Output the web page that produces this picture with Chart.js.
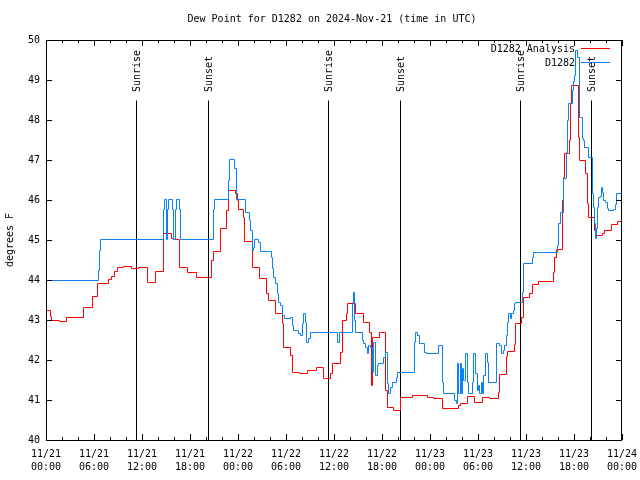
<!DOCTYPE html>
<html>
<head>
<meta charset="utf-8">
<script src="https://cdn.jsdelivr.net/npm/chart.js@4.4.1/dist/chart.umd.min.js"></script>
<style>
  html, body { margin: 0; padding: 0; background: #fff; }
  canvas { display: block; }
</style>
</head>
<body>
<canvas id="dewPoint" width="640" height="480"></canvas>
<script>
// hours since 11/21 00:00 UTC, dew point in deg F (step data)
const analysisHours = [0, 0.5, 0.625, 1.625, 2.5, 4.625, 5.75, 6.375, 7.75, 8.125, 8.5, 8.875, 9.625, 10.625, 11.5,
    12.625, 13.625, 14.625, 15.625, 15.875, 16.625, 17.625, 18.75, 20.625, 20.875, 21.75, 22.5, 22.75, 23.625, 23.875,
    24, 24.625, 24.75, 25.75, 26.625, 27.5, 27.75, 28.625, 29.5, 29.625, 30.5, 30.75, 31.625, 32.625, 33.75, 34.625,
    35.5, 35.75, 36.75, 37, 37.5, 37.625, 38.625, 39.625, 40.375, 40.625, 40.75, 41.625, 42.375, 42.625, 43.375,
    44.25, 45.75, 47.625, 48.375, 49.5, 51.5, 51.75, 52.625, 53.5, 54.5, 55.375, 56.5, 56.625, 57.5, 57.625, 58.5,
    58.625, 59.375, 59.625, 60.375, 60.75, 61.5, 63.375, 63.5, 63.75, 64.5, 64.625, 64.75, 65.375, 65.5, 65.625,
    66.5, 66.625, 67.375, 67.625, 67.75, 68.5, 68.625, 69.5, 69.75, 70.625, 71.375, 72];
const analysisValues = [43.25, 43.1, 43.0, 42.975, 43.075, 43.325, 43.6, 43.925, 44.025, 44.1, 44.225, 44.325, 44.35, 44.3, 44.325,
    43.95, 44.225, 45.175, 45.05, 45.025, 44.325, 44.2, 44.075, 44.5, 44.725, 45.3, 45.75, 46.25, 46.175, 46.0,
    45.775, 45.575, 44.975, 44.325, 44.05, 43.675, 43.5, 43.175, 42.925, 42.325, 42.125, 41.7, 41.675, 41.75, 41.825, 41.55,
    41.675, 41.925, 42.2, 43.0, 43.175, 43.425, 43.175, 42.95, 42.7, 41.375, 42.575, 42.7, 41.25, 40.825, 40.75,
    41.075, 41.125, 41.075, 41.05, 40.8, 40.875, 40.925, 41.1, 40.95, 41.075, 41.05, 41.2, 41.65, 42.1, 42.225, 42.4,
    42.925, 43.075, 43.575, 43.675, 43.9, 43.975, 44.2, 44.575, 44.775, 46.0, 46.575, 47.175, 47.5, 48.425, 48.875,
    47.575, 47.0, 46.675, 45.925, 45.575, 45.25, 45.125, 45.175, 45.25, 45.4, 45.475, 45.475];

const stationHours = [0, 6.5, 6.625, 6.75, 14.625, 14.75, 15, 15.125, 15.25, 15.75, 15.875, 16.125, 16.25, 16.625, 16.75,
    20.875, 21, 22.75, 22.875, 23.5, 23.75, 24.875, 25.375, 25.5, 25.75, 25.875, 26, 26.5, 26.75, 28.125, 28.25,
    28.375, 28.625, 28.875, 29, 29.25, 29.5, 29.75, 30.5, 30.75, 30.875, 31.5, 31.75, 32, 32.125, 32.375, 32.5,
    32.75, 33, 36.375, 36.625, 38.25, 38.375, 38.5, 38.625, 39.5, 39.625, 39.875, 40.125, 40.25, 40.5, 40.75,
    40.875, 41.125, 41.375, 41.5, 42.125, 42.375, 42.625, 42.75, 43, 43.25, 43.75, 43.875, 46, 46.125, 46.375,
    46.625, 47.25, 47.5, 49, 49.5, 49.625, 51, 51.25, 51.375, 51.5, 51.75, 51.875, 52, 52.125, 52.375, 52.625,
    52.75, 53.25, 53.375, 53.625, 53.875, 54, 54.125, 54.375, 54.5, 54.625, 54.875, 55.125, 55.25, 56.25, 56.625,
    56.875, 57.125, 57.25, 57.5, 57.625, 57.75, 58, 58.125, 58.375, 58.5, 58.625, 59.5, 59.625, 60.75, 60.875,
    63.875, 64, 64.25, 64.625, 65, 65.125, 65.25, 65.75, 65.875, 66, 66.125, 66.375, 66.625, 67, 67.125, 67.25,
    67.75, 68.25, 68.375, 68.5, 68.625, 68.75, 68.875, 69, 69.25, 69.375, 69.5, 69.625, 69.875, 70.125, 70.25,
    70.875, 71.125, 71.25, 72];
const stationValues = [44.0, 44.25, 44.75, 45.025, 45.775, 46.025, 45.025, 45.775, 46.025, 45.775, 45.025, 45.775, 46.025, 45.775, 45.025,
    45.775, 46.025, 46.5, 47.025, 46.8, 46.025, 45.7, 45.5, 45.25, 44.75, 44.825, 45.025, 44.95, 44.725, 44.575, 44.3,
    44.075, 43.925, 43.675, 43.45, 43.375, 43.125, 43.05, 43.075, 42.875, 42.75, 42.675, 42.625, 42.925, 43.175, 42.95, 42.45,
    42.55, 42.7, 42.45, 42.7, 43.45, 43.7, 43.0, 42.7, 42.5, 42.425, 42.325, 42.175, 42.375, 42.325, 41.7,
    42.45, 41.625, 41.875, 41.925, 42.075, 42.2, 41.425, 41.175, 41.325, 41.45, 41.575, 41.7, 42.45, 42.7, 42.625,
    42.425, 42.2, 42.175, 42.375, 41.45, 41.175, 41.0, 40.925, 41.925, 41.175, 41.925, 41.175, 41.8, 41.5, 42.175, 41.45,
    41.175, 41.45, 42.175, 41.675, 41.25, 41.375, 41.175, 41.45, 41.175, 41.625, 42.175, 41.95, 41.45, 42.425, 42.375,
    42.175, 42.25, 42.375, 42.625, 42.95, 43.175, 43.05, 43.175, 43.25, 43.425, 43.45, 43.7, 44.425, 44.575, 44.7,
    44.875, 45.425, 45.7, 46.55, 47.2, 48.0, 48.425, 48.75, 48.975, 49.125, 49.75, 49.575, 48.075, 47.55, 47.5, 47.325,
    47.075, 46.175, 45.825, 45.425, 45.05, 45.3, 45.825, 46.075, 46.1, 46.325, 46.2, 46.0, 45.95, 45.8, 45.75,
    45.775, 45.9, 46.175, 46.175];

const sunHours = [11.25, 20.25, 35.25, 44.25, 59.25, 68.125];
const sunLabels = ['Sunrise', 'Sunset', 'Sunrise', 'Sunset', 'Sunrise', 'Sunset'];
const sunLineTop = 48.5;

const tickDays = ['11/21', '11/21', '11/21', '11/21', '11/22', '11/22', '11/22', '11/22', '11/23', '11/23', '11/23', '11/23', '11/24'];
const tickTimes = ['00:00', '06:00', '12:00', '18:00', '00:00', '06:00', '12:00', '18:00', '00:00', '06:00', '12:00', '18:00', '00:00'];

const FONT = '"DejaVu Sans Mono", "Liberation Mono", monospace';
const RED = '#ff0000';
const BLUE = '#0a80f5';

const toPoints = (hours, values) => hours.map((h, i) => ({ x: h, y: values[i] }));

let datasets = [{
    label: 'D1282',
    data: toPoints(stationHours, stationValues),
    borderColor: BLUE,
    borderWidth: 1,
    pointRadius: 0,
    stepped: true,
    order: 0
}, {
    label: 'D1282 Analysis',
    data: toPoints(analysisHours, analysisValues),
    borderColor: RED,
    borderWidth: 1,
    pointRadius: 0,
    stepped: true,
    order: 1
}].concat(sunHours.map((h, i) => {
    return {
        label: sunLabels[i],
        data: [{ x: h, y: 40 }, { x: h, y: sunLineTop }],
        borderColor: '#000',
        borderWidth: 1,
        pointRadius: 0,
        order: 2
    };
}));

// crisp 1px lines like gnuplot
const halfPixel = {
    id: 'halfPixel',
    beforeDatasetsDraw(chart) { chart.ctx.save(); chart.ctx.translate(0.5, 0.5); },
    afterDatasetsDraw(chart) { chart.ctx.restore(); }
};

const decorations = {
    id: 'decorations',
    afterDraw(chart) {
        const ctx = chart.ctx;
        const area = chart.chartArea;
        const x = chart.scales.x, y = chart.scales.y;

        ctx.save();
        ctx.strokeStyle = '#000';
        ctx.lineWidth = 1;

        // frame
        ctx.strokeRect(Math.round(area.left) + 0.5, Math.round(area.top) + 0.5,
            Math.round(area.right - area.left) - 1, Math.round(area.bottom - area.top));

        // inward tick marks
        ctx.beginPath();
        for (let h = 0; h <= 72; h += 2) {
            let px = Math.round(x.getPixelForValue(h)) + 0.5;
            let len = h % 6 === 0 ? 6 : 3;
            ctx.moveTo(px, area.bottom);
            ctx.lineTo(px, area.bottom - len);
            ctx.moveTo(px, area.top);
            ctx.lineTo(px, area.top + len);
        }
        for (let v = 40; v <= 50; v++) {
            let py = Math.round(y.getPixelForValue(v)) + 0.5;
            ctx.moveTo(area.left, py);
            ctx.lineTo(area.left + 6, py);
            ctx.moveTo(area.right, py);
            ctx.lineTo(area.right - 6, py);
        }
        ctx.stroke();

        ctx.fillStyle = '#000';
        ctx.font = '10px ' + FONT;

        // title
        ctx.textAlign = 'center';
        ctx.textBaseline = 'middle';
        ctx.fillText('Dew Point for D1282 on 2024-Nov-21 (time in UTC)', (area.left + area.right) / 2 - 2, 19);

        // sunrise / sunset labels
        sunHours.forEach((h, i) => {
            let px = x.getPixelForValue(h) + 1.5;
            let py = y.getPixelForValue(sunLineTop) - 8;
            ctx.save();
            ctx.translate(px, py);
            ctx.rotate(-Math.PI / 2);
            ctx.textAlign = 'left';
            ctx.textBaseline = 'middle';
            ctx.fillText(sunLabels[i], 0, 0);
            ctx.restore();
        });

        // legend, gnuplot style: text then sample
        [['D1282 Analysis', RED, 49], ['D1282', BLUE, 63]].forEach(([text, color, ly]) => {
            ctx.textAlign = 'right';
            ctx.textBaseline = 'middle';
            ctx.fillStyle = '#000';
            ctx.fillText(text, 575, ly);
            ctx.strokeStyle = color;
            ctx.beginPath();
            ctx.moveTo(581, ly - 0.5);
            ctx.lineTo(610, ly - 0.5);
            ctx.stroke();
        });

        ctx.restore();
    }
};

new Chart(document.getElementById('dewPoint'), {
    type: 'line',
    data: { datasets: datasets },
    options: {
        responsive: false,
        animation: false,
        devicePixelRatio: 1,
        layout: { padding: { top: 40, right: 18, left: 0, bottom: 0 } },
        elements: { line: { tension: 0 } },
        plugins: {
            legend: { display: false },
            title: { display: false },
            tooltip: { enabled: false }
        },
        scales: {
            x: {
                type: 'linear',
                min: 0,
                max: 72,
                grid: { display: false, drawTicks: false },
                border: { display: false },
                ticks: {
                    stepSize: 6,
                    padding: 8,
                    maxRotation: 0,
                    autoSkip: false,
                    color: '#000',
                    font: { family: FONT, size: 10, lineHeight: 1.3 },
                    callback: value => [tickDays[value / 6], tickTimes[value / 6]]
                },
                afterFit: scale => {
                    scale.height = 40;
                    scale.paddingLeft = 0;
                    scale.paddingRight = 0;
                }
            },
            y: {
                min: 40,
                max: 50,
                grid: { display: false, drawTicks: false },
                border: { display: false },
                ticks: {
                    stepSize: 1,
                    padding: 6,
                    color: '#000',
                    font: { family: FONT, size: 10 }
                },
                title: {
                    display: true,
                    text: 'degrees F',
                    color: '#000',
                    font: { family: FONT, size: 10 }
                },
                afterFit: scale => {
                    scale.width = 46;
                    scale.paddingTop = 0;
                    scale.paddingBottom = 0;
                }
            }
        }
    },
    plugins: [halfPixel, decorations]
});
</script>
</body>
</html>
